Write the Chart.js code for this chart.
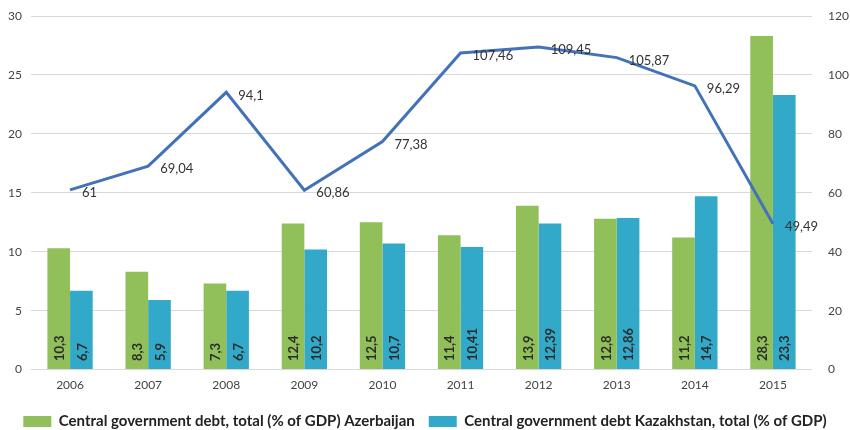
<!DOCTYPE html>
<html lang="en">
<head>
    <meta charset="UTF-8">
    <title>Central government debt</title>
    <style>
        html, body {
            margin: 0;
            padding: 0;
            background: #fff;
        }
        .chart-box {
            width: 850px;
            height: 430px;
        }
    </style>
</head>
<body>
    <div class="chart-box">
        <canvas id="debtChart"></canvas>
    </div>

    <script src="https://cdn.jsdelivr.net/npm/chart.js"></script>
    <script>
        // --- data ---
        const years = ['2006', '2007', '2008', '2009', '2010', '2011', '2012', '2013', '2014', '2015'];
        const azerbaijanDebt = [10.3, 8.3, 7.3, 12.4, 12.5, 11.4, 13.9, 12.8, 11.2, 28.3];
        const kazakhstanDebt = [6.7, 5.9, 6.7, 10.2, 10.7, 10.41, 12.39, 12.86, 14.7, 23.3];
        const lineValues = [61, 69.04, 94.1, 60.86, 77.38, 107.46, 109.45, 105.87, 96.29, 49.49];
        const leftTicks = [0, 5, 10, 15, 20, 25, 30];
        const rightTicks = [0, 20, 40, 60, 80, 100, 120];

        const fontFamily = "Lato, 'Open Sans', sans-serif";

        function fmt(v) {
            return String(v).replace('.', ',');
        }

        // fixed axis width, and no extra top/bottom padding from the tick labels
        function fixAxis(width) {
            return function(axis) {
                axis.width = width;
                axis.paddingTop = 0;
                axis.paddingBottom = 0;
            };
        }

        // draws the value labels: vertical inside bars, horizontal beside the line
        const valueLabels = {
            id: 'valueLabels',
            afterDatasetsDraw(chart) {
                const ctx = chart.ctx;
                ctx.save();
                chart.data.datasets.forEach(function(ds, i) {
                    const meta = chart.getDatasetMeta(i);
                    meta.data.forEach(function(el, j) {
                        const text = fmt(ds.data[j]);
                        if (ds.type === 'line') {
                            ctx.font = '13px ' + fontFamily;
                            ctx.fillStyle = '#333';
                            ctx.textAlign = 'left';
                            ctx.textBaseline = 'middle';
                            ctx.fillText(text, el.x + 12, el.y + 3);
                        } else {
                            ctx.save();
                            ctx.translate(el.x, el.base - 8);
                            ctx.rotate(-Math.PI / 2);
                            ctx.font = 'bold 13px ' + fontFamily;
                            ctx.fillStyle = '#2b2b2b';
                            ctx.textAlign = 'left';
                            ctx.textBaseline = 'middle';
                            ctx.fillText(text, 0, 1);
                            ctx.restore();
                        }
                    });
                });
                ctx.restore();
            }
        };

        const ctx = document.getElementById('debtChart').getContext('2d');
        const debtChart = new Chart(ctx, {
            data: {
                labels: years,
                datasets: [
                    {
                        type: 'line',
                        label: 'Line',
                        data: lineValues,
                        yAxisID: 'y1',
                        borderColor: '#4472b8',
                        borderWidth: 3,
                        pointRadius: 0,
                        tension: 0,
                        order: 0
                    },
                    {
                        type: 'bar',
                        label: 'Central government debt, total (% of GDP) Azerbaijan',
                        data: azerbaijanDebt,
                        yAxisID: 'y',
                        backgroundColor: '#91bf5a',
                        order: 1
                    },
                    {
                        type: 'bar',
                        label: 'Central government debt Kazakhstan, total (% of GDP)',
                        data: kazakhstanDebt,
                        yAxisID: 'y',
                        backgroundColor: '#33a9c9',
                        order: 1
                    }
                ]
            },
            options: {
                responsive: true,
                maintainAspectRatio: false,
                animation: false,
                layout: {
                    padding: { left: 0, right: 0, top: 16, bottom: -9 }
                },
                datasets: {
                    bar: {
                        categoryPercentage: 0.58,
                        barPercentage: 1
                    }
                },
                plugins: {
                    legend: {
                        position: 'bottom',
                        labels: {
                            filter: function(item) { return item.datasetIndex !== 0; },
                            boxWidth: 28,
                            boxHeight: 11,
                            padding: 14,
                            color: '#222',
                            font: { family: fontFamily, size: 15, weight: 'bold' }
                        }
                    },
                    tooltip: { enabled: false }
                },
                scales: {
                    x: {
                        grid: { display: false, drawTicks: false },
                        border: { display: false },
                        ticks: {
                            padding: 8,
                            color: '#444',
                            font: { family: fontFamily, size: 12 }
                        }
                    },
                    y: {
                        position: 'left',
                        min: leftTicks[0],
                        max: leftTicks[leftTicks.length - 1],
                        afterBuildTicks: function(axis) {
                            axis.ticks = leftTicks.map(function(v) { return { value: v }; });
                        },
                        afterFit: fixAxis(31),
                        grid: { color: '#d9d9d9', drawTicks: false },
                        border: { display: false },
                        ticks: {
                            padding: 9,
                            color: '#444',
                            font: { family: fontFamily, size: 12 }
                        }
                    },
                    y1: {
                        position: 'right',
                        min: rightTicks[0],
                        max: rightTicks[rightTicks.length - 1],
                        afterBuildTicks: function(axis) {
                            axis.ticks = rightTicks.map(function(v) { return { value: v }; });
                        },
                        afterFit: fixAxis(38),
                        grid: { display: false, drawTicks: false },
                        border: { display: false },
                        ticks: {
                            padding: 16,
                            color: '#444',
                            font: { family: fontFamily, size: 12 }
                        }
                    }
                }
            },
            plugins: [valueLabels]
        });
    </script>
</body>
</html>
